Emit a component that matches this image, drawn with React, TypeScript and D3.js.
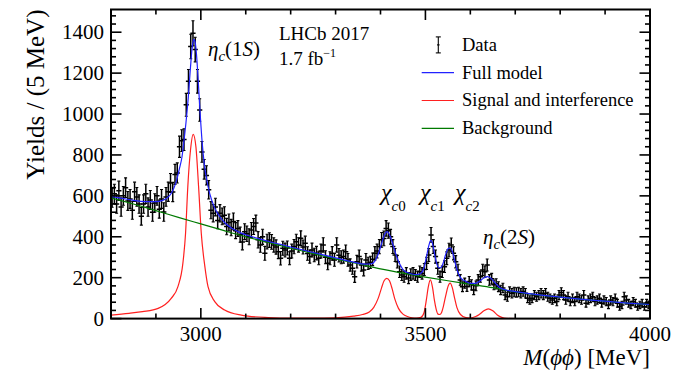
import React from "react";
import * as d3 from "d3";

// ---------- data ----------
const BIN_LO = 2800;
const BIN_W = 5;

// yields per 5 MeV bin (2800-4000 MeV, 240 bins)
const yields = [
  590, 610, 560, 625, 545, 600, 640, 575, 585, 530,
  620, 595, 560, 500, 560, 610, 545, 580, 520, 565,
  600, 535, 585, 521, 595, 620, 663, 619, 705, 712,
  840, 870, 875, 1045, 1160, 1330, 1395, 1315, 1160, 1020,
  815, 730, 700, 630, 530, 515, 545, 480, 515, 500,
  505, 450, 470, 445, 475, 430, 440, 410, 375, 425,
  415, 400, 433, 450, 467, 385, 360, 400, 319, 376,
  384, 375, 360, 350, 327, 295, 344, 335, 345, 295,
  330, 352, 376, 360, 393, 350, 368, 318, 303, 335,
  311, 320, 295, 330, 360, 300, 270, 295, 319, 287,
  360, 310, 300, 303, 327, 287, 262, 246, 205, 278,
  303, 262, 238, 287, 270, 275, 290, 319, 330, 352,
  385, 392, 441, 430, 400, 352, 311, 278, 229, 213,
  205, 221, 198, 215, 221, 213, 205, 229, 221, 240,
  270, 311, 409, 352, 303, 246, 205, 229, 254, 295,
  335, 360, 319, 278, 238, 189, 156, 173, 157, 181,
  165, 140, 160, 189, 205, 238, 229, 262, 189, 195,
  165, 170, 156, 140, 150, 115, 107, 132, 124, 130,
  128, 130, 124, 132, 124, 99, 91, 99, 115, 107,
  115, 124, 115, 124, 107, 99, 91, 99, 83, 115,
  128, 115, 91, 107, 83, 99, 83, 107, 99, 91,
  115, 75, 91, 99, 107, 83, 91, 99, 75, 91,
  83, 67, 91, 83, 99, 75, 58, 67, 107, 91,
  75, 67, 83, 75, 58, 67, 75, 58, 75, 68,
];

const yieldErrors = [
  46, 47, 45, 47, 45, 46, 48, 46, 46, 44,
  47, 46, 45, 43, 45, 47, 45, 46, 44, 45,
  46, 44, 46, 45, 46, 47, 46, 47, 49, 49,
  52, 53, 53, 56, 58, 60, 61, 60, 58, 55,
  51, 48, 47, 45, 42, 42, 43, 41, 42, 41,
  42, 40, 41, 40, 41, 39, 39, 37, 39, 39,
  38, 39, 37, 39, 39, 40, 36, 37, 34, 36,
  36, 36, 35, 35, 34, 33, 34, 34, 34, 32,
  34, 35, 36, 35, 36, 34, 35, 33, 32, 34,
  33, 33, 32, 34, 35, 32, 31, 32, 33, 31,
  35, 33, 32, 32, 33, 31, 30, 29, 28, 31,
  32, 30, 29, 31, 30, 30, 31, 33, 34, 35,
  36, 36, 38, 37, 36, 34, 32, 31, 28, 27,
  27, 28, 27, 28, 28, 27, 27, 28, 28, 29,
  30, 32, 36, 34, 32, 29, 27, 28, 29, 31,
  33, 34, 32, 30, 28, 26, 24, 25, 24, 25,
  25, 23, 24, 26, 27, 28, 28, 29, 26, 26,
  24, 25, 24, 23, 23, 22, 22, 23, 23, 23,
  23, 23, 23, 23, 23, 21, 21, 21, 22, 22,
  22, 23, 22, 23, 22, 21, 21, 21, 20, 22,
  23, 22, 21, 22, 20, 21, 20, 22, 21, 21,
  22, 19, 20, 21, 22, 20, 20, 21, 19, 20,
  20, 18, 20, 20, 21, 19, 17, 18, 22, 20,
  19, 18, 20, 19, 17, 18, 19, 17, 19, 18,
];

// Full model (blue)
const fullMass = [
  2800, 2825, 2850, 2875, 2900, 2915, 2925, 2935, 2945, 2952, 2958, 2963, 2967,
  2972, 2977, 2981, 2984, 2987, 2990, 2994, 2998, 3003, 3008, 3013, 3020, 3030,
  3040, 3055, 3070, 3090, 3100, 3150, 3200, 3250, 3300, 3340, 3365, 3380, 3390,
  3398, 3405, 3410, 3415, 3420, 3428, 3435, 3442, 3450, 3460, 3470, 3480, 3490,
  3497, 3503, 3508, 3512, 3516, 3520, 3525, 3530, 3535, 3540, 3546, 3551, 3556,
  3561, 3566, 3572, 3580, 3590, 3600, 3610, 3620, 3630, 3638, 3645, 3655, 3665,
  3680, 3700, 3750, 3800, 3850, 3900, 3950, 4000,
];
const fullYield = [
  598, 588, 578, 572, 572, 578, 590, 615, 668, 730, 790, 880, 960,
  1080, 1230, 1330, 1365, 1355, 1300, 1170, 1020, 860, 750, 680, 610, 545,
  505, 465, 440, 418, 410, 378, 350, 323, 297, 276, 266, 268, 290,
  335, 385, 415, 425, 410, 360, 310, 270, 240, 225, 218, 215, 222,
  250, 310, 360, 383, 365, 320, 270, 248, 250, 275, 320, 343, 345,
  320, 275, 228, 195, 182, 172, 172, 182, 198, 205, 198, 175, 152,
  140, 132, 117, 105, 94, 85, 76, 69,
];

// Signal and interference (red)
const sigMass = [
  2800, 2840, 2870, 2905, 2934, 2949, 2960, 2966, 2971, 2977, 2983, 2989, 2995,
  3001, 3009, 3016, 3031, 3053, 3090, 3105, 3150, 3200, 3250, 3300, 3340, 3360,
  3375, 3385, 3395, 3402, 3408, 3414, 3420, 3426, 3432, 3440, 3450, 3460, 3470,
  3480, 3490, 3497, 3502, 3506, 3511, 3516, 3520, 3524, 3528, 3532, 3536, 3540,
  3545, 3550, 3555, 3560, 3565, 3570, 3578, 3590, 3600, 3612, 3620, 3630, 3640,
  3650, 3660, 3670, 3680, 3700, 3800, 4000,
];
const sigYield = [
  17, 26, 34, 50, 99, 156, 270, 417, 645, 824, 901, 841, 645,
  417, 254, 156, 83, 42, 17, 12, 5, 2, 2, 4, 12, 20,
  32, 55, 100, 148, 185, 197, 185, 145, 95, 50, 22, 10, 4,
  2, 6, 30, 90, 150, 189, 150, 90, 45, 22, 20, 30, 60,
  110, 155, 173, 150, 100, 55, 20, 5, 3, 10, 20, 38, 48,
  38, 18, 6, 1, 0, 0, 0,
];

// Background (green)
const bkgMass = [
  2800, 2850, 2900, 2950, 3000, 3050, 3100, 3150, 3200, 3250, 3300, 3350, 3400,
  3450, 3500, 3550, 3600, 3650, 3700, 3750, 3800, 3850, 3900, 3950, 4000,
];
const bkgYield = [
  590, 560, 528, 495, 463, 431, 400, 372, 344, 318, 292, 268, 243,
  222, 203, 185, 168, 151, 131, 116, 105, 94, 85, 76, 68,
];

const yTickValues = [0, 200, 400, 600, 800, 1000, 1200, 1400];
const xTickValues = [3000, 3500, 4000];

const legendItems = [
  { label: "Data", kind: "data", color: "#000" },
  { label: "Full model", kind: "line", color: "#2222ff" },
  { label: "Signal and interference", kind: "line", color: "#ff2020" },
  { label: "Background", kind: "line", color: "#007a00" },
];

// ---------- layout ----------
const W = 677;
const H = 375;
const L = 111;
const R = 650;
const T = 9.5;
const B = 318.6;
const SERIF = '"Liberation Serif", "DejaVu Serif", serif';

export default function App() {
  const x = d3.scaleLinear().domain([2800, 4000]).range([L, R]);
  const y = d3.scaleLinear().domain([0, 1511]).range([B, T]);

  const mkLine = (ms: number[], vs: number[]) =>
    d3
      .line<number>()
      .x((_, i) => x(ms[i]))
      .y((v) => y(v))
      .curve(d3.curveMonotoneX)(vs) || "";

  const yMinor = d3.range(0, 1511, 40).filter((v) => v % 200 !== 0);
  const xMinor = d3.range(2900, 4000, 100).filter((v) => v % 500 !== 0);

  const bins = yields.map((v, i) => ({
    m: BIN_LO + BIN_W * (i + 0.5),
    v,
    e: yieldErrors[i],
  }));

  const majLen = 10.5;
  const minLen = 5;
  const txt = { fontFamily: SERIF, fill: "#000" } as React.CSSProperties;

  return (
    <svg
      width={W}
      height={H}
      style={{ position: "absolute", left: 0, top: 0, background: "#fff", fontFamily: SERIF }}
    >
      <rect x={0} y={0} width={W} height={H} fill="#fff" />
      <defs>
        <clipPath id="frameClip">
          <rect x={L} y={T} width={R - L} height={B - T} />
        </clipPath>
      </defs>

      {/* data points */}
      <g clipPath="url(#frameClip)" stroke="#000" strokeWidth={1.5}>
        {bins.map((b, i) => {
          const cx = x(b.m);
          const y0 = y(b.v - b.e);
          const y1 = y(b.v + b.e);
          const cy = y(b.v);
          return (
            <g key={i}>
              <line x1={cx} x2={cx} y1={y0} y2={y1} />
              <line x1={cx - 2.6} x2={cx + 2.6} y1={cy} y2={cy} />
              <line x1={cx - 1.5} x2={cx + 1.5} y1={y0} y2={y0} strokeWidth={1.1} />
              <line x1={cx - 1.5} x2={cx + 1.5} y1={y1} y2={y1} strokeWidth={1.1} />
            </g>
          );
        })}
      </g>

      {/* curves */}
      <g clipPath="url(#frameClip)" fill="none" strokeWidth={1.2}>
        <path d={mkLine(sigMass, sigYield)} stroke="#ff2020" />
        <path d={mkLine(bkgMass, bkgYield)} stroke="#007a00" />
        <path d={mkLine(fullMass, fullYield)} stroke="#2222ff" />
      </g>

      {/* frame */}
      <rect x={L} y={T} width={R - L} height={B - T} fill="none" stroke="#000" strokeWidth={2} />

      {/* ticks */}
      <g stroke="#000" strokeWidth={1.6}>
        {yTickValues.map((v) => (
          <g key={"ym" + v}>
            <line x1={L} x2={L + majLen} y1={y(v)} y2={y(v)} />
            <line x1={R} x2={R - majLen} y1={y(v)} y2={y(v)} />
          </g>
        ))}
        {yMinor.map((v) => (
          <g key={"yn" + v}>
            <line x1={L} x2={L + minLen} y1={y(v)} y2={y(v)} />
            <line x1={R} x2={R - minLen} y1={y(v)} y2={y(v)} />
          </g>
        ))}
        {xTickValues.map((v) => (
          <g key={"xm" + v}>
            <line x1={x(v)} x2={x(v)} y1={B} y2={B - majLen} />
            <line x1={x(v)} x2={x(v)} y1={T} y2={T + majLen} />
          </g>
        ))}
        {xMinor.map((v) => (
          <g key={"xn" + v}>
            <line x1={x(v)} x2={x(v)} y1={B} y2={B - minLen} />
            <line x1={x(v)} x2={x(v)} y1={T} y2={T + minLen} />
          </g>
        ))}
      </g>

      {/* tick labels */}
      <g fontSize={21} style={txt}>
        {yTickValues.map((v) => (
          <text key={"yl" + v} x={104} y={y(v)} dy="0.34em" textAnchor="end" style={txt}>
            {v}
          </text>
        ))}
        {xTickValues.map((v) => (
          <text key={"xl" + v} x={x(v)} y={341} textAnchor="middle" style={txt}>
            {v}
          </text>
        ))}
      </g>

      {/* axis titles */}
      <text
        transform={`translate(44,${T}) rotate(-90)`}
        textAnchor="end"
        fontSize={25}
        style={txt}
      >
        Yields / (5 MeV)
      </text>
      <text x={650} y={365} textAnchor="end" fontSize={23} style={txt}>
        <tspan fontStyle="italic">M</tspan>(<tspan fontStyle="italic">ϕϕ</tspan>) [MeV]
      </text>

      {/* LHCb label */}
      <text x={279} y={39.5} fontSize={19} style={txt}>LHCb 2017</text>
      <text x={279} y={65} fontSize={19} style={txt}>
        1.7 fb<tspan fontSize={12} dy={-8}>−1</tspan>
      </text>

      {/* peak labels */}
      <text x={208} y={56} fontSize={21} style={txt}>
        <tspan fontStyle="italic">η</tspan>
        <tspan fontStyle="italic" fontSize={15} dy={5}>c</tspan>
        <tspan dy={-5}>(1</tspan>
        <tspan fontStyle="italic">S</tspan>)
      </text>
      <text x={381} y={200} fontSize={24} style={txt}>
        <tspan fontStyle="italic">χ</tspan>
        <tspan fontSize={15} dy={11}><tspan fontStyle="italic">c</tspan>0</tspan>
      </text>
      <text x={420} y={200} fontSize={24} style={txt}>
        <tspan fontStyle="italic">χ</tspan>
        <tspan fontSize={15} dy={11}><tspan fontStyle="italic">c</tspan>1</tspan>
      </text>
      <text x={455} y={200} fontSize={24} style={txt}>
        <tspan fontStyle="italic">χ</tspan>
        <tspan fontSize={15} dy={11}><tspan fontStyle="italic">c</tspan>2</tspan>
      </text>
      <text x={483} y={244} fontSize={21} style={txt}>
        <tspan fontStyle="italic">η</tspan>
        <tspan fontStyle="italic" fontSize={15} dy={5}>c</tspan>
        <tspan dy={-5}>(2</tspan>
        <tspan fontStyle="italic">S</tspan>)
      </text>

      {/* legend */}
      <g fontSize={18.5}>
        {legendItems.map((it, i) => {
          const base = 50.7 + i * 27.8;
          const ly = base - 5.8;
          return (
            <g key={it.label}>
              {it.kind === "data" ? (
                <g stroke="#000" strokeWidth={1.1}>
                  <line x1={438.3} x2={438.3} y1={ly - 8} y2={ly + 8} />
                  <line x1={435.8} x2={440.8} y1={ly - 8} y2={ly - 8} />
                  <line x1={435.8} x2={440.8} y1={ly + 8} y2={ly + 8} />
                  <line x1={437} x2={439.6} y1={ly} y2={ly} />
                </g>
              ) : (
                <line x1={421.7} x2={454} y1={ly} y2={ly} stroke={it.color} strokeWidth={1.2} />
              )}
              <text x={462} y={base} style={txt}>{it.label}</text>
            </g>
          );
        })}
      </g>
    </svg>
  );
}
